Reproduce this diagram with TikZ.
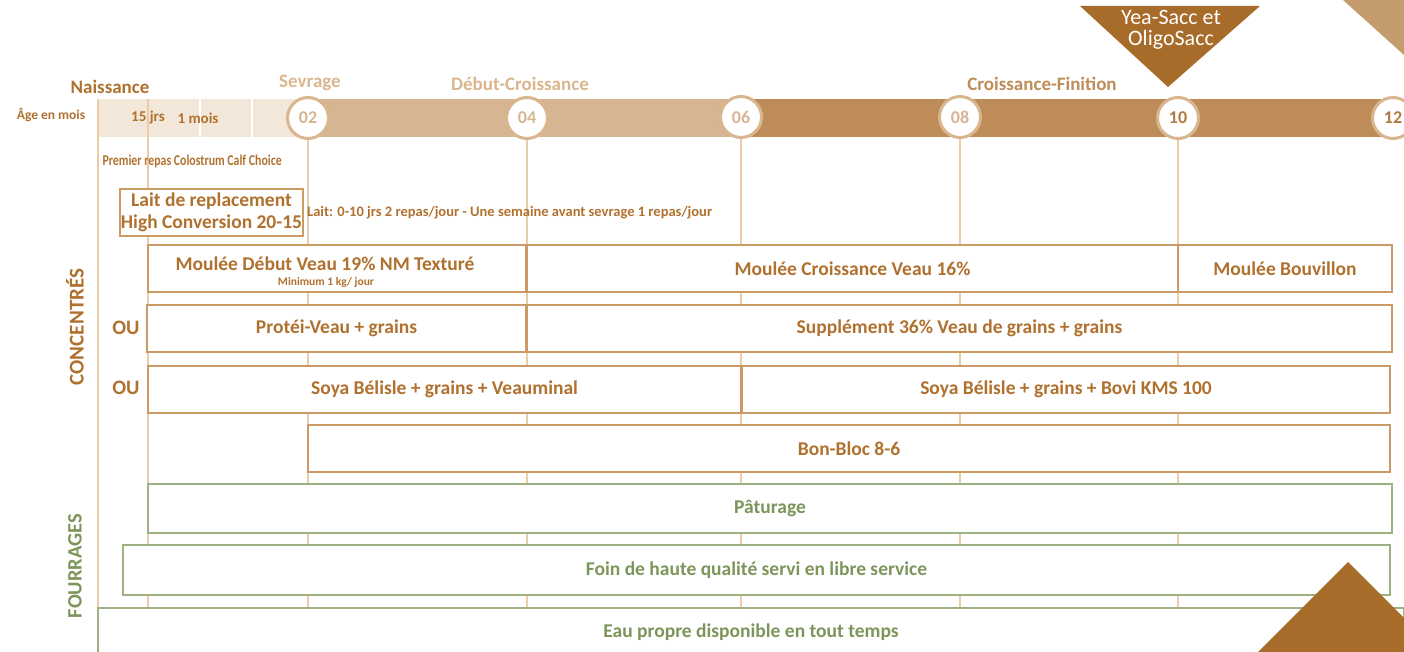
\documentclass[tikz,border=0pt]{standalone}
\usepackage{fontspec}
\setmainfont{Carlito}
\newfontfamily\condfont[FakeStretch=0.79]{Carlito}
\definecolor{barpale}{HTML}{F3E7DA}
\definecolor{barmid}{HTML}{D5B592}
\definecolor{bardark}{HTML}{BE8C58}
\definecolor{ringtan}{HTML}{D9B68E}
\definecolor{linetan}{HTML}{EBCBA8}
\definecolor{txtbrown}{HTML}{B0712F}
\definecolor{boxbrown}{HTML}{CC9A66}
\definecolor{boxgreen}{HTML}{9DB183}
\definecolor{txtgreen}{HTML}{7D955A}
\definecolor{trbrown}{HTML}{A86C2A}
\definecolor{trpale}{HTML}{C49B6C}
\definecolor{numdark}{HTML}{B07A45}

\begin{document}
\begin{tikzpicture}[x=1pt,y=-1pt,
      conc/.style={draw=boxbrown,fill=white,line width=1.2pt,minimum height=47pt,%
      inner sep=0pt,text=txtbrown,font=\fontsize{19.5}{22}\selectfont\bfseries},
      four/.style={conc,draw=boxgreen,text=txtgreen,minimum height=49pt},
      phase/.style={font=\fontsize{19}{21}\selectfont\bfseries},
      mois/.style={circle,draw=ringtan,line width=3pt,fill=white,minimum size=41pt,%
      inner sep=0pt,text=barmid,font=\fontsize{18}{20}\selectfont\bfseries},
      vline/.style={linetan,line width=1.5pt}]
      \useasboundingbox (0,0) rectangle (1404,652) ;
      \clip (0,0) rectangle (1404,652) ;
      % corner triangles
      \fill[trpale] (1343,0) -- (1404,0) -- (1404,55) -- cycle ;
      \fill[trbrown] (1080,6) -- (1260,6) -- (1168,87) -- cycle ;
      \node[text=white,align=center,inner sep=0pt,font=\fontsize{22}{21}\selectfont] %
      (yea) at (1171,30) {Yea-Sacc et\\OligoSacc} ;
      % phase labels
      \node[phase,text=txtbrown] (naiss) at (110,87) {Naissance} ;
      \node[phase,text=ringtan] (sevr) at (310,83) {Sevrage} ;
      \node[phase,text=ringtan] (debut) at (520,84) {Début-Croissance} ;
      \node[phase,text=bardark] (finit) at (1042,84) {Croissance-Finition} ;
      \node[text=txtbrown,font=\fontsize{13.5}{15}\selectfont\bfseries] (age) at (51,115) {Âge en mois} ;
      % time bar
      \fill[barpale] (98,99) rectangle (147,137) ;
      \fill[barpale] (149,99) rectangle (199,137) ;
      \fill[barpale] (201,99) rectangle (251,137) ;
      \fill[barpale] (253,99) rectangle (308,137) ;
      \fill[barmid] (308,99) rectangle (741,137) ;
      \fill[bardark] (741,99) rectangle (1404,137) ;
      \node[text=txtbrown,font=\fontsize{15}{17}\selectfont\bfseries] (jrs) at (148,118) {15 jrs} ;
      \node[text=txtbrown,font=\fontsize{15}{17}\selectfont\bfseries] (unmois) at (198,118) {1 mois} ;
      \node[mois] (m02) at (308,118) {02} ;
      \node[mois] (m04) at (527,118) {04} ;
      \node[mois] (m06) at (741,117) {06} ;
      \node[mois] (m08) at (960,117) {08} ;
      \node[mois,text=numdark] (m10) at (1178,118) {10} ;
      \node[mois,text=numdark] (m12) at (1393,118) {12} ;
      % grid lines
      \coordinate (bas) at (0,608) ;
      \coordinate (t00) at (98,99) ;
      \coordinate (t15) at (148,99) ;
      \draw[vline] (t00) -- (t00 |- bas) ;
      \draw[vline] (t15) -- (t15 |- bas) ;
      \foreach \m in {02,04,06,08,10}
        \draw[vline] (m\m.south) -- (m\m |- bas) ;
      % lait
      \node[text=txtbrown,font=\condfont\fontsize{15}{17}\selectfont\bfseries,anchor=west] %
      (colos) at (99,161) {Premier repas Colostrum Calf Choice} ;
      \node[conc,minimum width=183pt,minimum height=47pt,align=center,font=\fontsize{19.5}{22}\selectfont\bfseries] %
      (lait) at (211.5,212.5) {Lait de replacement\\High Conversion 20-15} ;
      \node[text=txtbrown,font=\fontsize{14.5}{16}\selectfont\bfseries,anchor=west] %
      (repas) at (lait.east) {Lait: 0-10 jrs 2 repas/jour - Une semaine avant sevrage 1 repas/jour} ;
      % concentres
      \node[conc,minimum width=378pt] (mdv) at (337,268.5) {} ;
      \node[text=txtbrown,font=\fontsize{19.5}{22}\selectfont\bfseries] (mdvt) at (325,264) {Moulée Début Veau 19\% NM Texturé} ;
      \node[text=txtbrown,font=\fontsize{11.5}{13}\selectfont\bfseries] (mdvm) at (326,282) {Minimum 1 kg/ jour} ;
      \node[conc,minimum width=651pt] (mcv) at (852.5,268.5) {Moulée Croissance Veau 16\%} ;
      \node[conc,minimum width=214pt] (mbouv) at (1285,268.5) {Moulée Bouvillon} ;
      \node[conc,minimum width=379pt] (prot) at (336.5,328.5) {Protéi-Veau + grains} ;
      \node[conc,minimum width=865pt] (suppl) at (959.5,328.5) {Supplément 36\% Veau de grains + grains} ;
      \node[conc,minimum width=593pt] (soya1) at (444.5,389.5) {Soya Bélisle + grains + Veauminal} ;
      \node[conc,minimum width=648pt] (soya2) at (1066,389.5) {Soya Bélisle + grains + Bovi KMS 100} ;
      \node[conc,minimum width=1082pt] (bloc) at (849,448.5) {Bon-Bloc 8-6} ;
      \node[text=txtbrown,font=\fontsize{20.5}{22}\selectfont\bfseries] (ou1) at (126,328) {OU} ;
      \node[text=txtbrown,font=\fontsize{20.5}{22}\selectfont\bfseries] (ou2) at (126,388) {OU} ;
      % fourrages
      \node[four,minimum width=1244pt] (patur) at (770,508.5) {Pâturage} ;
      \node[four,minimum width=1267pt,minimum height=50pt] (foin) at (756.5,570) {Foin de haute qualité servi en libre service} ;
      \node[four,minimum width=1306pt,minimum height=48pt] (eau) at (751,632) {Eau propre disponible en tout temps} ;
      \node[rotate=90,text=txtbrown,font=\fontsize{21}{23}\selectfont\bfseries] (concs) at (75,327) {CONCENTRÉS} ;
      \node[rotate=90,text=txtgreen,font=\fontsize{20.5}{23}\selectfont\bfseries] (fourr) at (75,566) {FOURRAGES} ;
      \fill[trbrown] (1258,652) -- (1348,562) -- (1404,618) -- (1404,652) -- cycle ;
\end{tikzpicture}
\end{document}
